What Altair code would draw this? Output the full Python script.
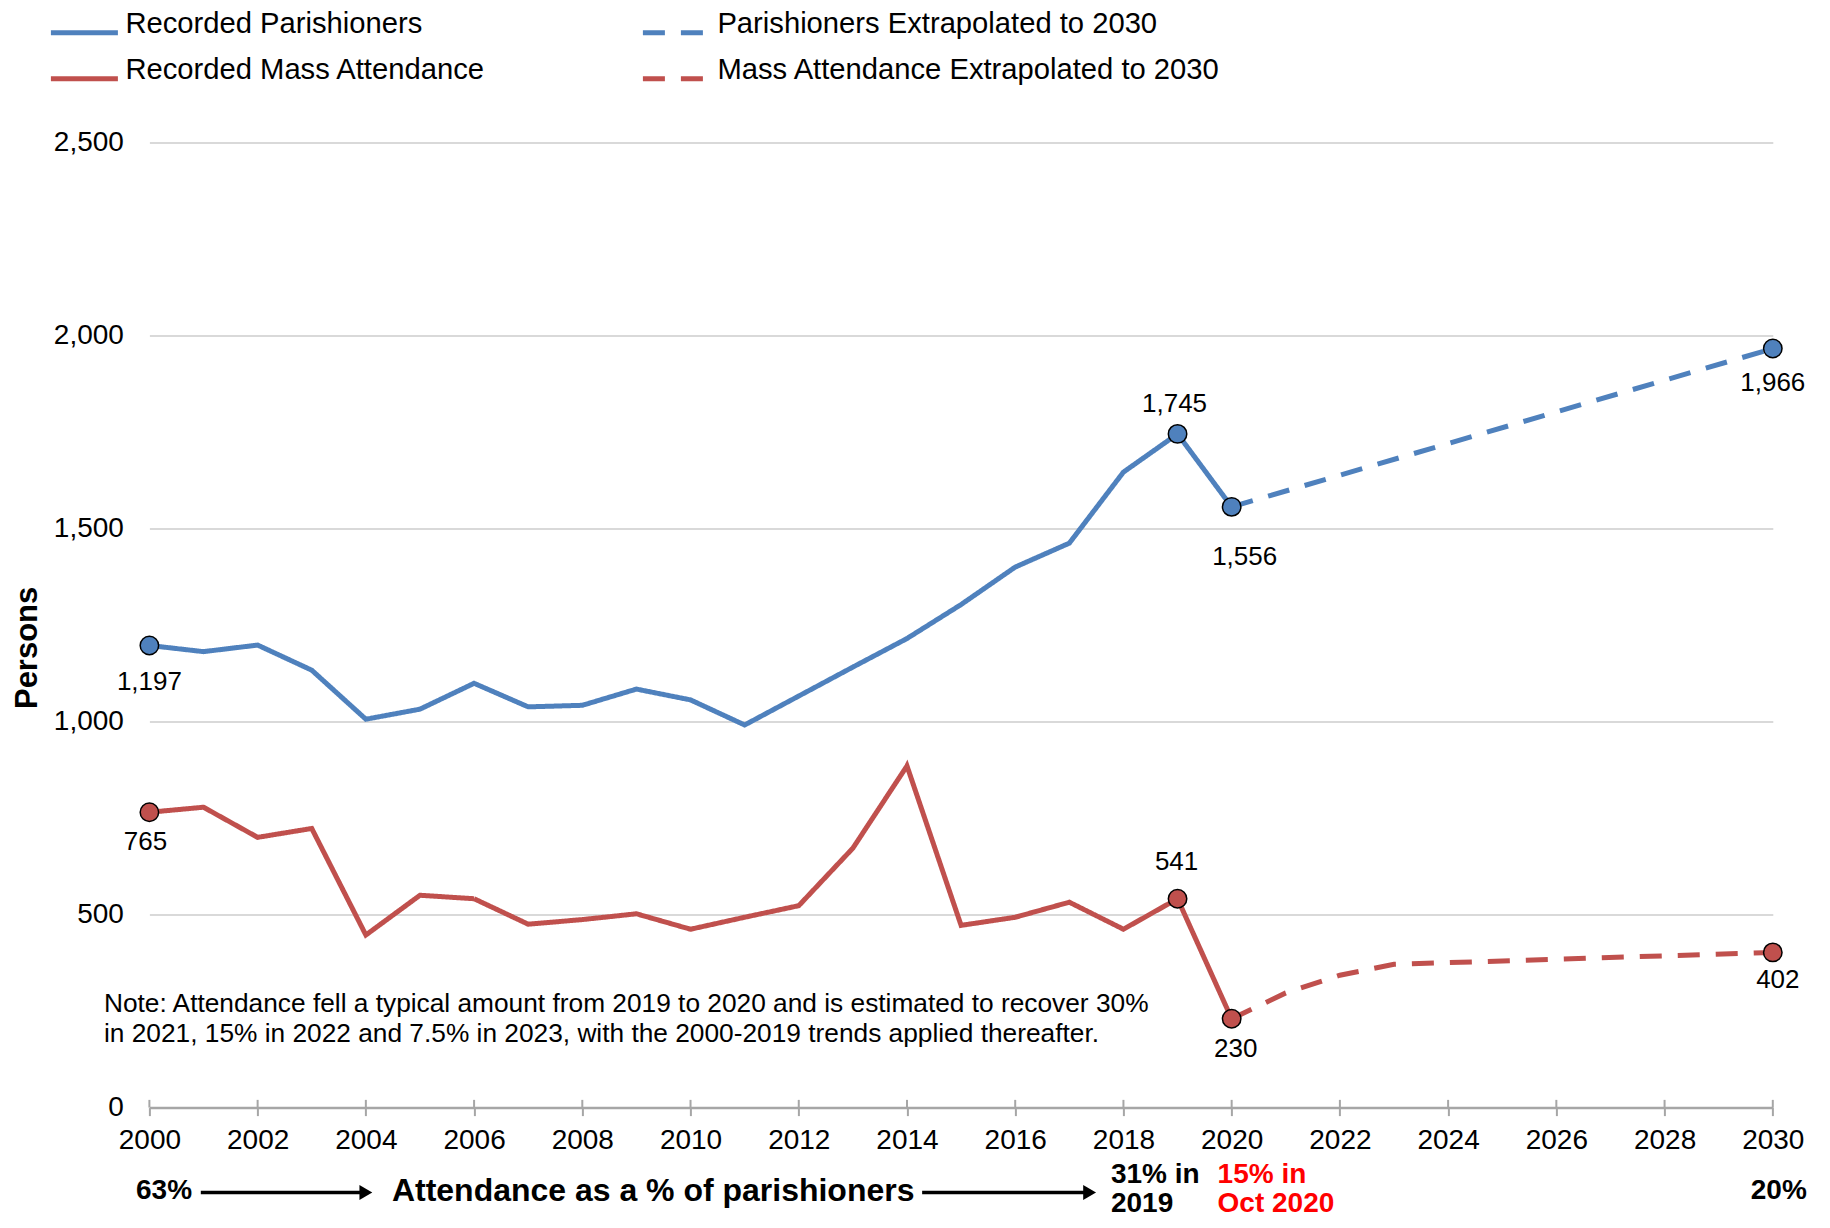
import altair as alt
import pandas as pd

FONT = "Liberation Sans"
BLUE = "#4F81BD"
RED = "#C0504D"

# ---------------- data ----------------
years = list(range(2000, 2021))
parishioners = [1197, 1181, 1198, 1133, 1006, 1032, 1099, 1038, 1042, 1084, 1056,
                991, 1066, 1141, 1215, 1303, 1400, 1462, 1646, 1745, 1556]
attendance = [765, 778, 700, 723, 447, 550, 541, 475, 487, 502, 462,
              493, 523, 672, 885, 472, 493, 532, 462, 541, 230]

par_ext_years = [2020, 2030]
par_ext = [1556, 1966]
att_ext_years = [2020, 2021, 2022, 2023, 2030]
att_ext = [230, 297, 343, 371, 402]

# legend order (filled column by column): col 1 = recorded, col 2 = extrapolated
series_names = ["Recorded Parishioners", "Recorded Mass Attendance",
                "Parishioners Extrapolated to 2030", "Mass Attendance Extrapolated to 2030"]

mk_groups = ["Parishioners"] * 4 + ["Attendance"] * 4
mk_years = [2000, 2019, 2020, 2030, 2000, 2019, 2020, 2030]
mk_values = [1197, 1745, 1556, 1966, 765, 541, 230, 402]

y_ticks = [0, 500, 1000, 1500, 2000, 2500]
x_ticks = list(range(2000, 2031, 2))

note_lines = ["Note: Attendance fell a typical amount from 2019 to 2020 and is estimated to recover 30%",
              "in 2021, 15% in 2022 and 7.5% in 2023, with the 2000-2019 trends applied thereafter."]

# ---------------- tables ----------------
rows = []
for y, v in zip(years, parishioners):
    rows.append({"year": y, "value": v, "series": "Recorded Parishioners"})
for y, v in zip(par_ext_years, par_ext):
    rows.append({"year": y, "value": v, "series": "Parishioners Extrapolated to 2030"})
for y, v in zip(years, attendance):
    rows.append({"year": y, "value": v, "series": "Recorded Mass Attendance"})
for y, v in zip(att_ext_years, att_ext):
    rows.append({"year": y, "value": v, "series": "Mass Attendance Extrapolated to 2030"})
lines_df = pd.DataFrame(rows)

mk_df = pd.DataFrame({
    "idx": list(range(len(mk_values))),
    "group": mk_groups,
    "year": mk_years,
    "value": mk_values,
    "label": [f"{v:,}" for v in mk_values],
})
tick_df = pd.DataFrame({"year": x_ticks})

xs = alt.Scale(domain=[2000, 2030], nice=False, zero=False)
ys = alt.Scale(domain=[0, 2500], nice=False, zero=False)

x_axis = alt.Axis(values=x_ticks, format="d", title=None, grid=False,
                  domainColor="#a6a6a6", domainWidth=2.5,
                  tickColor="#a6a6a6", tickWidth=2, tickSize=8,
                  labelFontSize=28, labelPadding=11, labelColor="black",
                  labelFont=FONT, labelFlush=False, labelOverlap=False)
y_axis = alt.Axis(values=y_ticks, format=",.0f", title="Persons", domain=False,
                  ticks=False, tickSize=0, grid=True, gridColor="#d9d9d9", gridWidth=2,
                  labelFontSize=28, labelPadding=26, labelColor="black", labelFont=FONT,
                  titleFontSize=31, titleFontWeight="bold", titleColor="black",
                  titleFont=FONT, titleAngle=270, titleX=-122, titleY=505,
                  titleAlign="center", titleBaseline="middle")


def X(field):
    return alt.X(field, scale=xs, axis=x_axis)


def Y(field):
    return alt.Y(field, scale=ys, axis=y_axis)


def XD(v):
    return alt.XDatum(v, scale=xs, axis=x_axis)


def YD(v):
    return alt.YDatum(v, scale=ys, axis=y_axis)


leg = alt.Legend(title=None, orient="none", legendX=-101, legendY=-145.7,
                 columns=2, columnPadding=146, rowPadding=-38, padding=0,
                 symbolType="stroke", symbolSize=4489, symbolStrokeWidth=5,
                 labelFontSize=29.2, labelOffset=5, labelLimit=700,
                 labelBaseline="alphabetic",
                 labelColor="black", labelFont=FONT)

lines = alt.Chart(lines_df).mark_line(strokeWidth=5).encode(
    x=X("year:Q"),
    y=Y("value:Q"),
    color=alt.Color("series:N", scale=alt.Scale(domain=series_names,
                                                range=[BLUE, RED, BLUE, RED]), legend=leg),
    strokeDash=alt.StrokeDash("series:N", scale=alt.Scale(domain=series_names,
                                                          range=[[1, 0], [1, 0], [22, 16], [22, 16]]),
                              legend=leg),
)

# upper half of the x-axis tick marks (they cross the axis line)
tick_up = alt.Chart(tick_df).mark_rule(color="#a6a6a6", strokeWidth=2).encode(
    x=X("year:Q"),
    y=YD(0),
    y2=alt.Y2Datum(20),
)

pts = alt.Chart(mk_df).mark_point(filled=True, size=340, stroke="black",
                                  strokeWidth=1.5, opacity=1).encode(
    x=X("year:Q"),
    y=Y("value:Q"),
    fill=alt.Fill("group:N", scale=alt.Scale(domain=["Parishioners", "Attendance"],
                                             range=[BLUE, RED]), legend=None),
)

label_offsets = [(0, 37), (-3, -30), (13, 50), (0, 34), (-4, 30), (-1, -37), (4, 30), (5, 28)]
label_layers = []
for i, (dx, dy) in enumerate(label_offsets):
    label_layers.append(
        alt.Chart(mk_df).transform_filter(alt.datum.idx == i).mark_text(
            dx=dx, dy=dy, fontSize=26, font=FONT, color="black",
            align="center", baseline="middle").encode(
            x=X("year:Q"),
            y=Y("value:Q"),
            text="label:N",
        )
    )


def text_at(txt, xv, yv, **kw):
    return alt.Chart(tick_df).transform_filter(alt.datum.year == 2000).mark_text(
        font=FONT, **kw).encode(
        x=XD(xv),
        y=YD(yv),
        text=alt.value(txt),
    )


note = text_at(note_lines, 1999.16, 248, fontSize=26.3, align="left",
               baseline="alphabetic", lineHeight=30.6, color="black")

pct63 = text_at("63%", 2000.27, -217, fontSize=28, fontWeight="bold",
                align="center", baseline="middle", color="black")
att_txt = text_at("Attendance as a % of parishioners", 2009.31, -217, fontSize=32,
                  fontWeight="bold", align="center", baseline="middle", color="black")
pct31 = text_at(["31% in", "2019"], 2017.77, -195.3, fontSize=28, fontWeight="bold",
                align="left", baseline="alphabetic", lineHeight=29, color="black")
pct15 = text_at(["15% in", "Oct 2020"], 2019.74, -195.3, fontSize=28, fontWeight="bold",
                align="left", baseline="alphabetic", lineHeight=29, color="#FF0000")
pct20 = text_at("20%", 2030.11, -217, fontSize=28, fontWeight="bold",
                align="center", baseline="middle", color="black")


def arrow(x0, x1, yv):
    base = alt.Chart(tick_df).transform_filter(alt.datum.year == 2000)
    shaft = base.mark_rule(color="black", strokeWidth=3.5).encode(
        x=XD(x0),
        x2=alt.X2Datum(x1),
        y=YD(yv),
    )
    head = base.mark_point(shape="triangle-right", filled=True, size=220,
                           color="black", opacity=1).encode(
        x=XD(x1),
        y=YD(yv),
    )
    return [shaft, head]


arrows = arrow(2000.95, 2004.0, -220) + arrow(2014.28, 2017.375, -220)

chart = alt.layer(
    lines, tick_up, pts, *label_layers, note, pct63, att_txt, pct31, pct15, pct20, *arrows
).properties(
    width=1623.4,
    height=965.2,
    autosize=alt.AutoSizeParams(type="none"),
    padding={"left": 141.4, "top": 134.4, "right": 45, "bottom": 110.4},
).configure(font=FONT).configure_view(strokeWidth=0)

chart.save("out.html", embed_options={"renderer": "svg", "actions": False})
